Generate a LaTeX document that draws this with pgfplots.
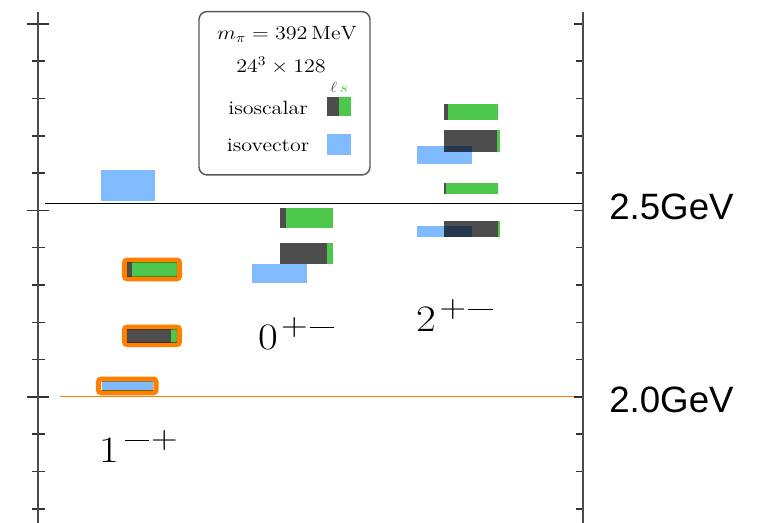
\documentclass[border=0pt]{standalone}
\usepackage{pgfplots}
\pgfplotsset{compat=1.18}
\usepackage{fontspec}
\newfontfamily\arial{Liberation Sans}
\definecolor{dk}{RGB}{77,77,77}
\definecolor{gr}{RGB}{77,200,77}
\definecolor{bl}{RGB}{128,187,255}
\definecolor{orng}{RGB}{255,128,0}
% isoscalar level: x1, x_split (light/strange), x2, Elow, Ehigh
\newcommand{\isobox}[5]{%
  \addplot[fill=dk,draw=none,blend mode=multiply] coordinates {(#1,#4) (#2,#4) (#2,#5) (#1,#5)};
  \addplot[fill=gr,draw=none,blend mode=multiply] coordinates {(#2,#4) (#3,#4) (#3,#5) (#2,#5)};}
% isovector level: x1, x2, Elow, Ehigh
\newcommand{\vecbox}[4]{%
  \addplot[fill=bl,draw=none,blend mode=multiply] coordinates {(#1,#3) (#2,#3) (#2,#4) (#1,#4)};}
% orange highlight frame
\newcommand{\frbox}[4]{%
  \addplot[draw=orng,line width=3.8pt,rounded corners=2pt] coordinates {(#1,#3) (#2,#3) (#2,#4) (#1,#4)} -- cycle;}
% J^{PC} label (text font, scalable), stretched horizontally as in the reference
\newcommand{\mns}{\hspace{0.056em}\rule[0.23em]{0.667em}{0.04em}\hspace{0.056em}}
\newcommand{\pls}{+}
\newcommand{\jpc}[2]{\scalebox{1.15}[1]{{\fontsize{28}{34}\selectfont #1}\hspace{2pt}\raisebox{10.6pt}{\fontsize{24}{27}\selectfont #2}}}
\newcommand{\leg}[1]{\scalebox{1.15}[1]{#1}}
\begin{document}
\begin{tikzpicture}
\path[use as bounding box] (0,0) rectangle (573pt,392.25pt);
\begin{axis}[
  at={(28.5pt,0pt)}, anchor=south west,
  scale only axis, width=408.75pt, height=383.25pt,
  xmin=38, xmax=583, ymin=1.662, ymax=3.032,
  axis x line=none, axis y line*=left,
  xtick=\empty, ytick={1.5,2.0,2.5,3.0}, minor tick num=4,
  yticklabels={},
  tick align=center, major tick length=16.5pt, minor tick length=9.75pt,
  every tick/.style={line width=1.1pt, black!80},
  axis line style={line width=1.6pt, black!70},
  clip=false]
% reference lines
\addplot[black, line width=1.1pt] coordinates {(45,2.518) (583,2.518)};
\addplot[orng, line width=0.8pt] coordinates {(60,2.0) (583,2.0)};
% 1^{-+}
\vecbox{101}{155}{2.5255}{2.6086}
\frbox{124.5}{179.5}{2.3167}{2.3669}
\isobox{127}{131.7}{177}{2.3217}{2.3619}
\frbox{124.5}{179.5}{2.1406}{2.1873}
\isobox{127}{171.3}{177}{2.1456}{2.1823}
\frbox{98.5}{156}{2.0111}{2.0479}
\vecbox{101.7}{152.7}{2.0161}{2.0429}
% 0^{+-}
\isobox{280}{286}{333.3}{2.4523}{2.5075}
\isobox{280}{326.7}{333.3}{2.3566}{2.4121}
\vecbox{251.7}{306.7}{2.3048}{2.3566}
% 2^{+-}
\isobox{444.3}{447.7}{498.3}{2.7426}{2.7855}
\isobox{444.3}{496.7}{500}{2.6560}{2.7158}
\vecbox{416.7}{471.7}{2.6239}{2.6729}
\isobox{444.3}{445.7}{498.3}{2.5434}{2.5729}
\isobox{444.3}{497.7}{500}{2.4298}{2.4718}
\vecbox{416.7}{471.7}{2.4298}{2.4584}
% channel labels
\node[anchor=base west, inner sep=0] at (axis cs:99.5,1.8239) {\jpc{1}{\mns\pls}};
\node[anchor=base west, inner sep=0] at (axis cs:258,2.126) {\jpc{0}{\pls\mns}};
\node[anchor=base west, inner sep=0] at (axis cs:416.5,2.175) {\jpc{2}{\pls\mns}};
% energy labels
\node[anchor=base west, inner sep=0, font=\arial\fontsize{27.5}{30}\selectfont] at (axis cs:609,2.4745) {2.5GeV};
\node[anchor=base west, inner sep=0, font=\arial\fontsize{27.5}{30}\selectfont] at (axis cs:609,1.957) {2.0GeV};
% legend box
\draw[black!65, line width=1.1pt, rounded corners=6pt, fill=white] (axis cs:199,3.033) rectangle (axis cs:370,2.5952);
\node[anchor=base, inner sep=0, font=\fontsize{14.4}{17}\selectfont] at (axis cs:287,2.957) {\leg{$m_\pi = 392\,\mathrm{MeV}$}};
\node[anchor=base, inner sep=0, font=\fontsize{14.4}{17}\selectfont] at (axis cs:281,2.870) {\leg{$24^3\times 128$}};
\node[anchor=base, inner sep=0, font=\fontsize{10.95}{13}\selectfont] at (axis cs:339,2.8158) {\leg{$\color{dk}\ell\,{\color{gr}s}$}};
\node[anchor=base west, inner sep=0, font=\fontsize{14.4}{17}\selectfont] at (axis cs:228,2.756) {\leg{isoscalar}};
\node[anchor=base west, inner sep=0, font=\fontsize{14.4}{17}\selectfont] at (axis cs:226.7,2.6568) {\leg{isovector}};
\fill[dk] (axis cs:326.7,2.7534) rectangle (axis cs:339,2.8051);
\fill[gr] (axis cs:339,2.7534) rectangle (axis cs:351,2.8051);
\fill[bl] (axis cs:326.7,2.6488) rectangle (axis cs:351,2.7043);
\end{axis}
\begin{axis}[
  at={(28.5pt,0pt)}, anchor=south west,
  scale only axis, width=408.75pt, height=383.25pt,
  xmin=38, xmax=583, ymin=1.662, ymax=3.032,
  axis x line=none, axis y line*=right,
  xtick=\empty, ytick={1.5,2.0,2.5,3.0}, minor tick num=4,
  yticklabels={},
  tick align=inside, major tick length=6.75pt, minor tick length=5.25pt,
  every tick/.style={line width=1.1pt, black!80},
  axis line style={line width=1.6pt, black!70}]
\end{axis}
\end{tikzpicture}
\end{document}
